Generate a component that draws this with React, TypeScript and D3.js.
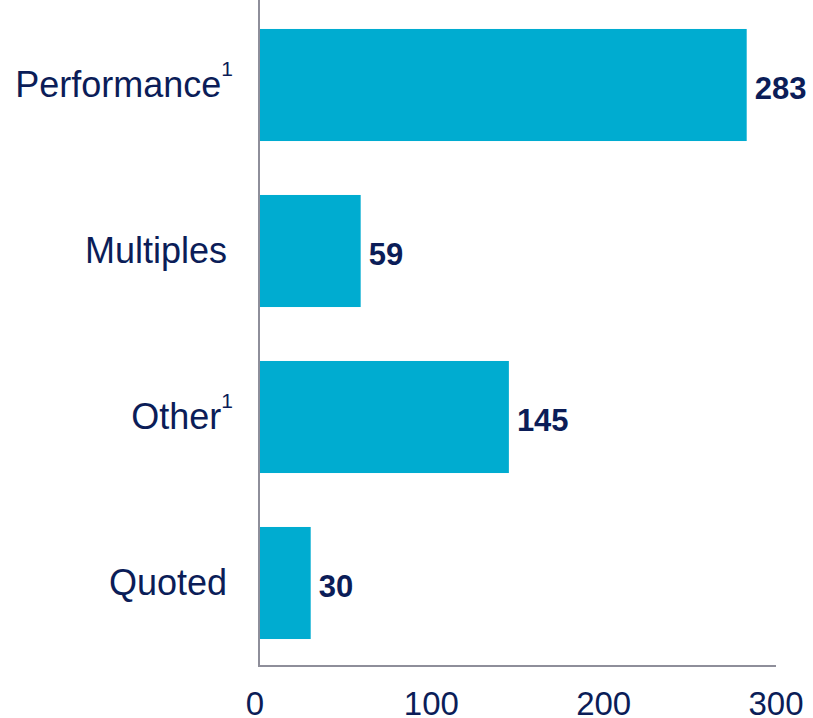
import React from "react";
import * as d3 from "d3";

const categories = ["Performance", "Multiples", "Other", "Quoted"];
const values = [283, 59, 145, 30];
const superscripts = ["1", "", "1", ""];
const xTicks = [0, 100, 200, 300];

const W = 813;
const H = 718;
const NAVY = "#0B1D58";
const BAR = "#00ACD0";
const AXIS = "#8E8E9A";

export default function App() {
  const x = d3.scaleLinear().domain([0, 300]).range([259, 776]);
  const y = d3
    .scaleBand<string>()
    .domain(categories)
    .range([2, 666])
    .paddingInner(0.325)
    .paddingOuter(0.1625);

  const font = "Liberation Sans, Arial, sans-serif";

  return (
    <svg
      width={W}
      height={H}
      style={{ position: "absolute", left: 0, top: 0, background: "#fff" }}
      fontFamily={font}
    >
      {categories.map((c, i) => {
        const y0 = y(c)!;
        const bw = y.bandwidth();
        const cy = y0 + bw / 2;
        return (
          <g key={c}>
            <rect x={x(0)} y={y0} width={x(values[i]) - x(0)} height={bw} fill={BAR} />
            <text
              x={x(values[i]) + 8}
              y={cy + 14}
              fontSize={31}
              fontWeight="bold"
              fill={NAVY}
            >
              {values[i]}
            </text>
            <text
              x={superscripts[i] ? 233 : 227}
              y={cy + 12}
              fontSize={36}
              fill={NAVY}
              textAnchor="end"
            >
              {c}
              {superscripts[i] ? (
                <tspan fontSize={21} dy={-21}>
                  {superscripts[i]}
                </tspan>
              ) : null}
            </text>
          </g>
        );
      })}
      <line x1={x(0)} x2={x(0)} y1={0} y2={666} stroke={AXIS} strokeWidth={2} />
      <line x1={x(0) - 1} x2={776} y1={666} y2={666} stroke={AXIS} strokeWidth={2} />
      {xTicks.map((t) => (
        <text
          key={t}
          x={x(t) - (t === 0 ? 4 : 0)}
          y={715}
          fontSize={33}
          fill={NAVY}
          textAnchor="middle"
        >
          {t}
        </text>
      ))}
    </svg>
  );
}
